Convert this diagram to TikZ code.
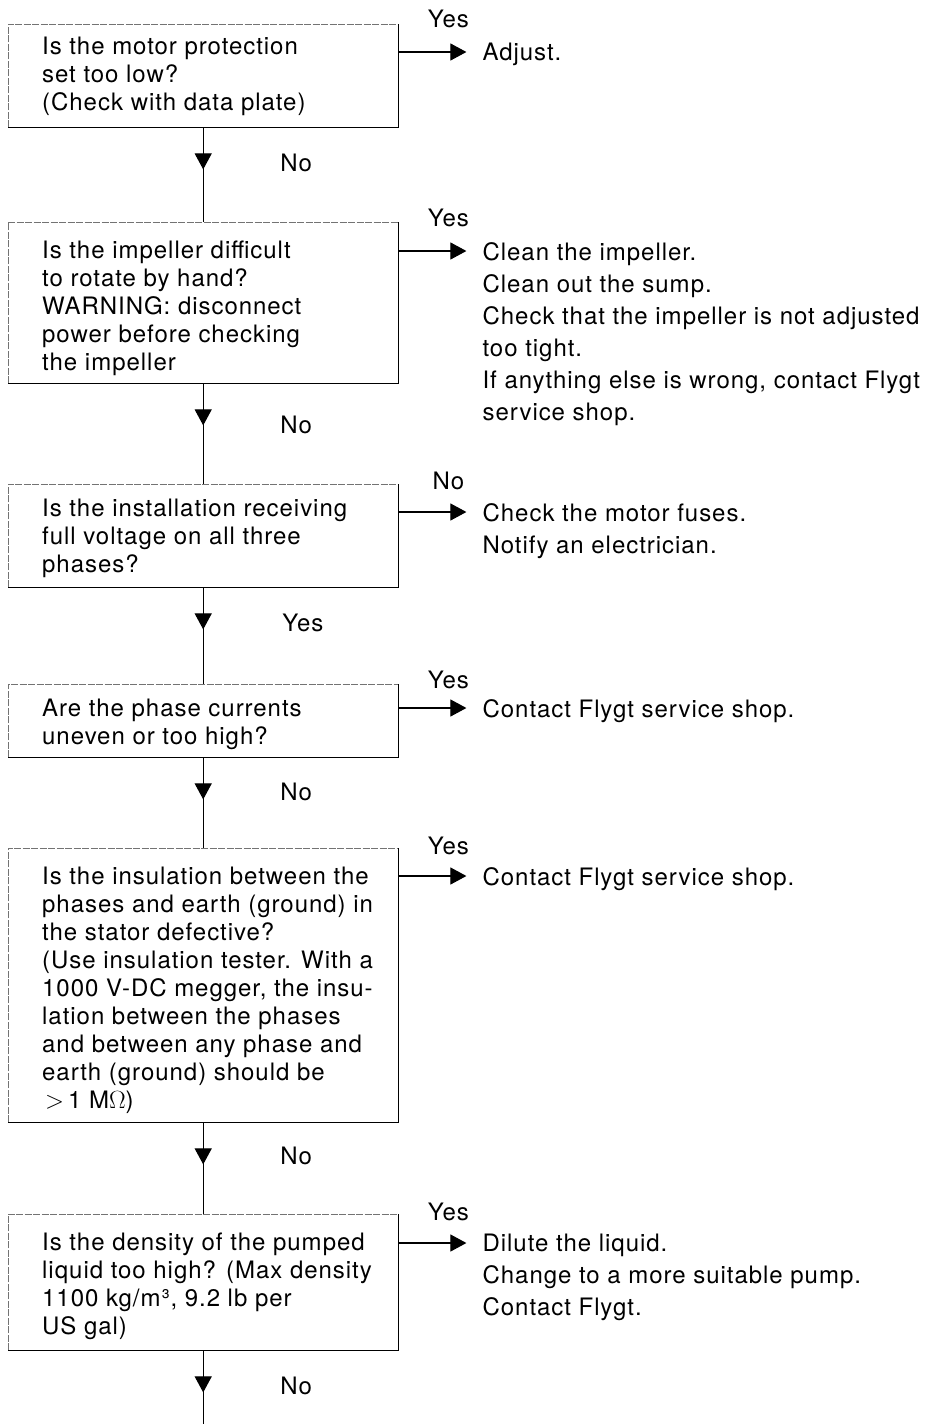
\documentclass[tikz,border=0pt]{standalone}
\usepackage{fontspec}
\setmainfont{TeX Gyre Heros}[LetterSpace=4]
\usetikzlibrary{arrows.meta}
\begin{document}
\begin{tikzpicture}[x=1pt,y=-1pt,
  box/.style={minimum width=390pt, inner sep=0pt, anchor=north west},
  qtext/.style={anchor=west, align=left, inner sep=0pt, font=\fontsize{24}{28}\selectfont},
  atext/.style={anchor=north west, align=left, inner sep=0pt, font=\fontsize{24}{32}\selectfont},
  lab/.style={inner sep=0pt, font=\fontsize{24}{28}\selectfont},
  solidedge/.style={line width=1.1pt, black},
  faintedge/.style={line width=0.8pt, black!55, dash pattern=on 7pt off 1.5pt},
  conn/.style={line width=1.1pt},
  tipped/.style={-{Triangle[length=16pt,width=17pt]}}
]
\useasboundingbox (0,0) rectangle (926,1424);

% boxes
\node[box, minimum height=103pt] (q1) at (8,24) {};
\node[box, minimum height=161pt] (q2) at (8,222) {};
\node[box, minimum height=103pt] (q3) at (8,484) {};
\node[box, minimum height=73pt]  (q4) at (8,684) {};
\node[box, minimum height=274pt] (q5) at (8,848) {};
\node[box, minimum height=136pt] (q6) at (8,1214) {};

\foreach \q in {q1,q2,q3,q4,q5,q6}{
  \draw[faintedge] (\q.south west) -- (\q.north west) -- (\q.north east);
  \draw[solidedge] (\q.north east) -- (\q.south east) -- (\q.south west);
}

% box texts
\node[qtext] (t1) at ([xshift=34pt,yshift=-1pt]q1.west) {Is the motor protection\\set too low?\\(Check with data plate)};
\node[qtext] (t2) at ([xshift=34pt,yshift=-6pt]q2.west) {Is the impeller difficult\\to rotate by hand?\\WARNING: disconnect\\power before checking\\the impeller};
\node[qtext] (t3) at ([xshift=34pt,yshift=-3pt]q3.west) {Is the installation receiving\\full voltage on all three\\phases?};
\node[qtext] (t4) at ([xshift=34pt,yshift=-4pt]q4.west) {Are the phase currents\\uneven or too high?};
\node[qtext] (t5) at ([xshift=34pt,yshift=-5pt]q5.west) {Is the insulation between the\\phases and earth (ground) in\\the stator defective?\\(Use insulation tester. With a\\1000 V-DC megger, the insu-\\lation between the phases\\and between any phase and\\earth (ground) should be\\\hspace*{3pt}$>$\,1 M$\Omega$)};
\node[qtext] (t6) at ([xshift=34pt,yshift=-4pt]q6.west) {Is the density of the pumped\\liquid too high? (Max density\\1100 kg/m³, 9.2 lb per\\US gal)};

% arrow start points
\coordinate (e1) at ([yshift=-28pt]q1.north east);
\coordinate (e2) at ([yshift=-29pt]q2.north east);
\coordinate (e3) at ([yshift=-28pt]q3.north east);
\coordinate (e4) at ([yshift=-24pt]q4.north east);
\coordinate (e5) at ([yshift=-28pt]q5.north east);
\coordinate (e6) at ([yshift=-29pt]q6.north east);

% actions
\node[atext] (a1) at ([xshift=84pt,yshift=9pt]e1) {Adjust.};
\node[atext] (a2) at ([xshift=84pt,yshift=9pt]e2) {Clean the impeller.\\Clean out the sump.\\Check that the impeller is not adjusted\\too tight.\\If anything else is wrong, contact Flygt\\service shop.};
\node[atext] (a3) at ([xshift=84pt,yshift=9pt]e3) {Check the motor fuses.\\Notify an electrician.};
\node[atext] (a4) at ([xshift=84pt,yshift=9pt]e4) {Contact Flygt service shop.};
\node[atext] (a5) at ([xshift=84pt,yshift=9pt]e5) {Contact Flygt service shop.};
\node[atext] (a6) at ([xshift=84pt,yshift=9pt]e6) {Dilute the liquid.\\Change to a more suitable pump.\\Contact Flygt.};

\foreach \i in {1,...,6}{
  \draw[conn,tipped,shorten >=16pt] (e\i) -- (e\i -| a\i.west);
}

% horizontal labels
\node[lab] (h1) at ([xshift=50pt,yshift=5pt]q1.north east) {Yes};
\node[lab] (h2) at ([xshift=50pt,yshift=4pt]q2.north east) {Yes};
\node[lab] (h3) at ([xshift=50pt,yshift=3pt]q3.north east) {No};
\node[lab] (h4) at ([xshift=50pt,yshift=4pt]q4.north east) {Yes};
\node[lab] (h5) at ([xshift=50pt,yshift=2pt]q5.north east) {Yes};
\node[lab] (h6) at ([xshift=50pt,yshift=2pt]q6.north east) {Yes};

% vertical connectors
\coordinate (bend) at (203,1424);
\draw[conn] (q1.south) -- (q2.north);
\draw[conn] (q2.south) -- (q3.north);
\draw[conn] (q3.south) -- (q4.north);
\draw[conn] (q4.south) -- (q5.north);
\draw[conn] (q5.south) -- (q6.north);
\draw[conn] (q6.south) -- (q6.south |- bend);
\foreach \q in {q1,q2,q3,q4,q5,q6}{
  \draw[conn,tipped] (\q.south) -- ([yshift=-42pt]\q.south);
}

% vertical labels
\node[lab, anchor=west] (v1) at ([xshift=77pt,yshift=-36pt]q1.south) {No};
\node[lab, anchor=west] (v2) at ([xshift=77pt,yshift=-42pt]q2.south) {No};
\node[lab, anchor=west] (v3) at ([xshift=79pt,yshift=-36pt]q3.south) {Yes};
\node[lab, anchor=west] (v4) at ([xshift=77pt,yshift=-35pt]q4.south) {No};
\node[lab, anchor=west] (v5) at ([xshift=77pt,yshift=-34pt]q5.south) {No};
\node[lab, anchor=west] (v6) at ([xshift=77pt,yshift=-36pt]q6.south) {No};
\end{tikzpicture}
\end{document}
